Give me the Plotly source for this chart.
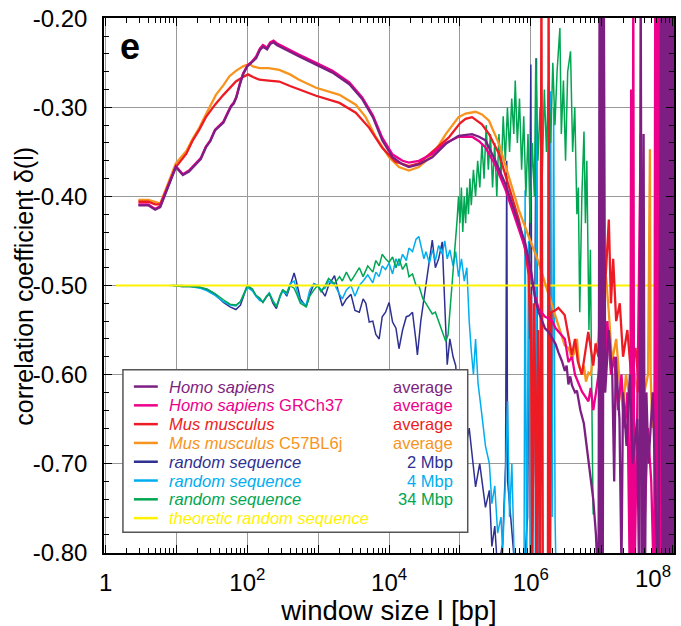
import plotly.graph_objects as go

FONT = "Liberation Sans, Arial, Helvetica, sans-serif"

# ---------------- data (window size l in bp, correlation coefficient) ----------------
hs_l = [2.9, 4.0, 5.0, 5.9, 9.8, 12.3, 15, 19, 22, 26, 30, 35, 40, 46, 52, 59, 64, 70, 78, 87,
        100, 115, 133, 150, 166, 190, 210, 234, 260, 290, 400, 540, 935, 1590, 2750, 4200, 5900,
        8000, 11200, 15500, 19000, 26300, 40700, 63100, 95500, 148000, 186000, 229000, 316000,
        437000, 603000, 832000, 1.02e6, 1.15e6, 1.29e6, 1.58e6, 1.78e6, 2.0e6, 2.24e6, 2.45e6,
        2.75e6, 3.02e6, 3.2e6, 3.39e6, 3.6e6, 3.8e6, 4.2e6, 4.47e6, 5.0e6, 5.6e6, 6.3e6, 6.9e6,
        7.6e6, 8.3e6, 9.02e6, 9.33e6, 9.66e6, 1.0e7, 1.035e7, 1.07e7, 1.12e7, 1.26e7, 1.41e7,
        1.5e7, 1.58e7, 1.78e7, 1.9e7, 2.0e7, 2.24e7, 2.5e7, 2.75e7, 3.16e7, 3.39e7, 3.55e7, 3.72e7,
        3.9e7, 4.07e7, 4.27e7, 4.57e7, 5.25e7, 6.3e7, 6.92e7, 7.16e7, 7.41e7, 7.67e7, 7.94e7,
        8.22e7, 8.51e7, 8.81e7, 9.12e7, 9.44e7, 9.77e7, 1.01e8, 1.047e8]
hs_d = [-0.410, -0.410, -0.415, -0.412, -0.367, -0.376, -0.372, -0.363, -0.358, -0.345, -0.338,
        -0.326, -0.322, -0.317, -0.308, -0.299, -0.296, -0.289, -0.275, -0.263, -0.254, -0.250,
        -0.245, -0.236, -0.232, -0.235, -0.229, -0.227, -0.230, -0.232, -0.238, -0.243, -0.252,
        -0.261, -0.274, -0.291, -0.311, -0.337, -0.356, -0.364, -0.367, -0.364, -0.356, -0.341,
        -0.332, -0.330, -0.333, -0.337, -0.360, -0.386, -0.419, -0.452, -0.486, -0.515, -0.530,
        -0.548, -0.552, -0.560, -0.566, -0.575, -0.585, -0.596, -0.590, -0.611, -0.602, -0.612,
        -0.620, -0.618, -0.640, -0.655, -0.690, -0.710, -0.740, -0.780, -0.85, -0.15, -0.85, -0.15,
        -0.85, -0.15, -0.62, -0.55, -0.60, -0.72, -0.58, -0.65, -0.82, -0.62, -0.68, -0.60, -0.70,
        -0.65, -0.85, -0.15, -0.85, -0.33, -0.85, -0.62, -0.70, -0.62, -0.85, -0.15, -0.85, -0.15,
        -0.85, -0.15, -0.85, -0.15, -0.85, -0.15, -0.85, -0.15, -0.85, -0.15]

grch_l = [2.9, 4.0, 5.0, 5.9, 9.8, 12.3, 15, 19, 22, 26, 30, 35, 40, 46, 52, 59, 64, 70, 78, 87,
          100, 115, 133, 150, 166, 190, 210, 234, 260, 290, 400, 540, 935, 1590, 2750, 4200, 5900,
          8000, 11200, 15500, 19000, 26300, 40700, 63100, 95500, 148000, 186000, 229000, 316000,
          437000, 603000, 832000, 1.02e6, 1.15e6, 1.29e6, 1.58e6, 1.78e6, 2.0e6, 2.24e6, 2.45e6,
          2.75e6, 3.02e6, 3.39e6, 3.8e6, 4.2e6, 4.7e6, 5.25e6, 5.9e6, 6.5e6, 7.0e6, 7.6e6, 8.3e6,
          9.0e6, 1.0e7, 1.1e7, 1.2e7, 1.35e7, 1.5e7, 1.7e7, 1.9e7, 2.1e7, 2.3e7, 2.51e7, 2.6e7,
          2.69e7, 2.79e7, 2.88e7, 3.16e7, 3.55e7, 3.72e7, 4.47e7, 5.0e7, 5.5e7, 5.69e7, 5.89e7,
          6.1e7, 6.31e7, 6.53e7, 6.76e7]
grch_d = [-0.409, -0.409, -0.414, -0.411, -0.366, -0.375, -0.371, -0.362, -0.357, -0.344, -0.337,
          -0.325, -0.321, -0.316, -0.307, -0.298, -0.295, -0.288, -0.274, -0.262, -0.253, -0.249,
          -0.243, -0.234, -0.230, -0.233, -0.227, -0.225, -0.228, -0.230, -0.236, -0.241, -0.250,
          -0.259, -0.272, -0.289, -0.309, -0.334, -0.353, -0.360, -0.362, -0.360, -0.352, -0.340,
          -0.333, -0.333, -0.338, -0.345, -0.365, -0.392, -0.425, -0.458, -0.492, -0.512, -0.526,
          -0.535, -0.537, -0.540, -0.548, -0.552, -0.556, -0.560, -0.586, -0.580, -0.600, -0.610,
          -0.619, -0.625, -0.630, -0.615, -0.640, -0.620, -0.600, -0.560, -0.620, -0.540, -0.600,
          -0.580, -0.640, -0.600, -0.660, -0.620, -0.85, -0.28, -0.85, -0.15, -0.85, -0.65, -0.33,
          -0.85, -0.66, -0.72, -0.85, -0.15, -0.85, -0.15, -0.85, -0.15, -0.85]

mm_l = [2.9, 4.0, 5.0, 5.9, 9.8, 13.8, 17, 21, 26, 35, 46, 56, 69, 87, 102, 120, 148, 200, 282,
        400, 537, 933, 1995, 3388, 5248, 7943, 12300, 19050, 26300, 40700, 69200, 100000, 120000,
        148000, 204000, 257000, 355000, 490000, 676000, 832000, 933000, 977000, 1.0e6, 1.05e6,
        1.1e6, 1.15e6, 1.2e6, 1.26e6, 1.35e6, 1.41e6, 1.48e6, 1.74e6, 1.78e6, 1.86e6, 1.95e6,
        2.2e6, 2.45e6, 3.0e6, 3.39e6, 3.8e6, 4.2e6, 4.6e6, 5.25e6, 5.8e6, 6.46e6, 7.0e6, 7.6e6,
        8.2e6, 9.0e6, 1.0e7, 1.12e7, 1.26e7, 1.35e7, 1.45e7, 1.6e7, 1.8e7, 2.0e7, 2.3e7, 2.6e7,
        3.0e7, 3.4e7]
mm_d = [-0.406, -0.406, -0.409, -0.409, -0.367, -0.352, -0.337, -0.325, -0.311, -0.297, -0.286,
        -0.279, -0.271, -0.266, -0.263, -0.266, -0.269, -0.270, -0.271, -0.276, -0.280, -0.287,
        -0.295, -0.306, -0.323, -0.345, -0.361, -0.366, -0.363, -0.350, -0.334, -0.318, -0.313,
        -0.311, -0.319, -0.330, -0.352, -0.389, -0.426, -0.460, -0.489, -0.560, -0.510, -0.85,
        -0.520, -0.600, -0.85, -0.550, -0.85, -0.15, -0.85, -0.85, -0.15, -0.85, -0.530, -0.528,
        -0.525, -0.533, -0.555, -0.578, -0.560, -0.585, -0.600, -0.575, -0.552, -0.570, -0.590,
        -0.565, -0.580, -0.540, -0.500, -0.426, -0.520, -0.470, -0.540, -0.520, -0.580, -0.550,
        -0.600, -0.570, -0.620]

c57_l = [2.9, 4.0, 5.0, 5.9, 9.8, 13.8, 17, 21, 26, 36, 46, 56, 69, 87, 107, 120, 148, 200, 282,
         400, 537, 933, 1995, 3388, 4677, 6457, 10000, 13800, 19050, 26300, 40700, 63100, 95500,
         120000, 166000, 204000, 257000, 355000, 490000, 676000, 933000, 1.29e6, 1.58e6, 2.0e6,
         2.45e6, 3.0e6, 3.4e6, 3.8e6, 4.1e6, 4.47e6, 4.8e6, 5.25e6, 5.6e6, 6.0e6, 6.5e6, 7.0e6,
         7.6e6, 8.2e6, 9.0e6, 1.0e7, 1.08e7, 1.15e7, 1.26e7, 1.4e7, 1.6e7, 1.8e7, 2.0e7, 2.2e7,
         2.5e7, 2.8e7, 3.2e7, 3.6e7, 4.0e7, 4.5e7, 4.79e7, 4.9e7, 5.2e7, 5.6e7]
c57_d = [-0.404, -0.404, -0.406, -0.408, -0.363, -0.349, -0.335, -0.323, -0.308, -0.286, -0.275,
         -0.265, -0.259, -0.254, -0.251, -0.254, -0.256, -0.256, -0.258, -0.263, -0.269, -0.278,
         -0.286, -0.297, -0.311, -0.333, -0.356, -0.367, -0.371, -0.367, -0.354, -0.330, -0.311,
         -0.307, -0.305, -0.308, -0.315, -0.341, -0.378, -0.415, -0.445, -0.474, -0.497, -0.523,
         -0.544, -0.567, -0.570, -0.582, -0.575, -0.560, -0.590, -0.600, -0.590, -0.608, -0.598,
         -0.600, -0.580, -0.575, -0.560, -0.495, -0.520, -0.490, -0.530, -0.585, -0.560, -0.610,
         -0.640, -0.600, -0.630, -0.590, -0.620, -0.600, -0.620, -0.600, -0.347, -0.600, -0.660,
         -0.620]

r2_l = [8.9, 12, 16, 21.4, 27, 35, 46, 57, 69, 80, 100, 118, 132, 150, 166, 186, 204, 230, 257,
        290, 316, 360, 400, 457, 490, 560, 676, 760, 870, 977, 1100, 1250, 1400, 1698, 1900, 2188,
        2500, 2900, 3300, 3802, 4300, 4700, 5248, 5888, 6500, 7244, 8000, 8913, 10000, 11200,
        12500, 13800, 15500, 17500, 19050, 21400, 24000, 25100, 28000, 33100, 37000, 40700, 45000,
        50000, 56200, 61000, 66100, 72000, 80000, 87100, 95500, 105000, 120000, 135000, 166000,
        190000, 229000, 260000, 282000, 310000, 340000, 400000, 440000, 457000, 470000, 520000,
        600000, 700000, 800000, 900000, 1.0e6, 1.05e6, 1.1e6, 1.2e6, 1.26e6, 1.3e6]
r2_d = [-0.500, -0.501, -0.501, -0.502, -0.505, -0.510, -0.519, -0.524, -0.527, -0.522, -0.500,
        -0.505, -0.511, -0.516, -0.519, -0.513, -0.509, -0.520, -0.526, -0.512, -0.505, -0.512,
        -0.500, -0.486, -0.495, -0.515, -0.524, -0.510, -0.498, -0.500, -0.505, -0.512, -0.500,
        -0.489, -0.505, -0.523, -0.515, -0.510, -0.528, -0.530, -0.515, -0.520, -0.541, -0.540,
        -0.555, -0.560, -0.535, -0.530, -0.519, -0.541, -0.548, -0.571, -0.550, -0.535, -0.534,
        -0.530, -0.563, -0.578, -0.540, -0.500, -0.470, -0.449, -0.480, -0.470, -0.451, -0.520,
        -0.589, -0.560, -0.580, -0.590, -0.637, -0.600, -0.682, -0.660, -0.726, -0.700, -0.749,
        -0.730, -0.793, -0.770, -0.82, -0.790, -0.700, -0.360, -0.720, -0.760, -0.82, -0.800,
        -0.82, -0.760, -0.252, -0.780, -0.700, -0.245, -0.800, -0.85]

r4_l = [7.9, 12, 16, 21.4, 27, 35, 46, 57, 69, 80, 100, 118, 132, 150, 166, 186, 204, 230, 257,
        290, 316, 360, 400, 457, 500, 560, 676, 760, 870, 977, 1100, 1250, 1400, 1698, 2000, 2188,
        2500, 2900, 3300, 3802, 4300, 5000, 5888, 6500, 7244, 8000, 8913, 10000, 11200, 12500,
        13800, 15500, 17500, 19050, 21400, 24000, 26300, 28000, 31000, 33100, 37000, 40700, 45000,
        50000, 56200, 61000, 66100, 72000, 80000, 87100, 95500, 105000, 115000, 125000, 135000,
        145000, 155000, 166000, 180000, 200000, 229000, 260000, 282000, 310000, 340000, 380000,
        400000, 437000, 470000, 500000, 540000, 600000, 800000, 830000, 870000, 930000, 980000,
        1.15e6, 1.2e6, 1.25e6, 1.8e6, 1.9e6, 2.0e6, 2.1e6, 2.2e6, 2.3e6]
r4_d = [-0.500, -0.500, -0.501, -0.503, -0.506, -0.511, -0.518, -0.522, -0.523, -0.518, -0.502,
        -0.506, -0.512, -0.517, -0.518, -0.512, -0.508, -0.517, -0.523, -0.513, -0.506, -0.510,
        -0.498, -0.495, -0.505, -0.518, -0.522, -0.505, -0.498, -0.500, -0.505, -0.503, -0.495,
        -0.499, -0.510, -0.515, -0.505, -0.500, -0.512, -0.500, -0.495, -0.488, -0.497, -0.485,
        -0.490, -0.478, -0.482, -0.475, -0.487, -0.470, -0.478, -0.465, -0.472, -0.458, -0.462,
        -0.448, -0.445, -0.455, -0.470, -0.462, -0.475, -0.460, -0.472, -0.455, -0.465, -0.450,
        -0.470, -0.460, -0.478, -0.462, -0.490, -0.470, -0.495, -0.480, -0.540, -0.575, -0.600,
        -0.560, -0.610, -0.640, -0.680, -0.700, -0.745, -0.725, -0.778, -0.760, -0.800, -0.720,
        -0.630, -0.760, -0.700, -0.85, -0.85, -0.393, -0.85, -0.450, -0.85, -0.85, -0.290, -0.85,
        -0.85, -0.282, -0.760, -0.300, -0.763, -0.85]

r34_l = [9, 12, 16, 21.4, 27, 35, 46, 57, 69, 80, 100, 118, 132, 150, 166, 186, 204, 230, 257,
         290, 316, 360, 400, 457, 500, 560, 676, 760, 870, 977, 1100, 1250, 1400, 1698, 2000, 2188,
         2500, 2900, 3300, 3802, 4300, 5000, 5888, 6500, 7244, 8000, 8913, 10000, 11200, 12500,
         13800, 15500, 17500, 19050, 21400, 24000, 26300, 30000, 33100, 36300, 40700, 45000,
         50100, 56200, 63100, 68000, 72000, 77600, 84000, 91200,
         95500, 100000, 104700, 109600, 114800, 120200, 125900, 131800, 138000, 144500, 154900,
         166000, 177800, 190500, 204200, 218800, 234400, 251200, 269200, 288400, 309000, 331100,
         354800, 380200, 407400, 436500, 467700, 501200, 537000, 575400, 602600, 645700, 691800,
         741300, 794300, 851100, 912000, 977200, 1.047e6, 1.122e6, 1.175e6, 1.259e6, 1.349e6,
         1.445e6, 1.549e6, 1.660e6, 1.778e6, 1.905e6, 2.042e6, 2.188e6, 2.344e6, 2.570e6,
         2.692e6, 2.884e6, 3.090e6, 3.311e6, 3.631e6, 3.890e6, 4.169e6, 4.467e6, 4.677e6,
         4.898e6, 5.248e6, 5.623e6, 5.888e6, 6.166e6, 6.607e6, 6.918e6, 7.413e6, 7.586e6]
r34_d = [-0.500, -0.501, -0.501, -0.502, -0.504, -0.509, -0.516, -0.521, -0.522, -0.518, -0.500,
         -0.504, -0.511, -0.514, -0.519, -0.512, -0.509, -0.518, -0.524, -0.511, -0.505, -0.508,
         -0.500, -0.503, -0.510, -0.520, -0.524, -0.512, -0.505, -0.500, -0.507, -0.500, -0.492,
         -0.498, -0.490, -0.495, -0.485, -0.495, -0.488, -0.480, -0.490, -0.478, -0.485, -0.472,
         -0.478, -0.465, -0.470, -0.474, -0.468, -0.480, -0.470, -0.482, -0.475, -0.490, -0.487,
         -0.500, -0.500, -0.515, -0.520, -0.526, -0.532, -0.530, -0.540, -0.550, -0.563, -0.555,
         -0.530, -0.500, -0.470, -0.426,
         -0.400, -0.430, -0.390, -0.440, -0.400, -0.430, -0.390, -0.420, -0.380, -0.410, -0.370,
         -0.400, -0.360, -0.390, -0.340, -0.380, -0.320, -0.370, -0.330, -0.390, -0.340, -0.400,
         -0.330, -0.380, -0.310, -0.360, -0.300, -0.350, -0.290, -0.330, -0.270, -0.340, -0.290,
         -0.370, -0.310, -0.400, -0.330, -0.430, -0.340, -0.400, -0.245, -0.360, -0.300,
         -0.380, -0.280, -0.350, -0.270, -0.340, -0.250, -0.320, -0.260, -0.211,
         -0.330, -0.270, -0.360, -0.260, -0.237, -0.350, -0.300, -0.420, -0.390,
         -0.530, -0.400, -0.327, -0.430, -0.360, -0.550, -0.460, -0.700, -0.757]

theory_l = [1.4, 8.1e7]
theory_d = [-0.5, -0.5]

# legend texts
legend_names = ["<i>Homo sapiens</i>", "<i>Homo sapiens</i> GRCh37", "<i>Mus musculus</i>",
                "<i>Mus musculus</i> C57BL6j", "<i>random sequence</i>", "<i>random sequence</i>",
                "<i>random sequence</i>", "<i>theoretic random sequence</i>"]
legend_notes = ["average", "average", "average", "average", "2 Mbp", "4 Mbp", "34 Mbp", ""]
plain_names = ["Homo sapiens", "Homo sapiens GRCh37", "Mus musculus", "Mus musculus C57BL6j",
               "random sequence 2 Mbp", "random sequence 4 Mbp", "random sequence 34 Mbp",
               "theoretic random sequence"]
colors = ["#7D1F82", "#EC008C", "#ED1C24", "#F7941D", "#2E3192", "#00AEEF", "#00A651", "#FFF200"]
xs = [hs_l, grch_l, mm_l, c57_l, r2_l, r4_l, r34_l, theory_l]
ys = [hs_d, grch_d, mm_d, c57_d, r2_d, r4_d, r34_d, theory_d]
widths = [2.3, 2.3, 2.3, 2.3, 1.5, 1.5, 1.5, 2.0]

x_tickvals = [1, 10, 100, 1e3, 1e4, 1e5, 1e6, 1e7, 1e8]
x_ticktext = ["1", "", "10<sup>2</sup>", "", "10<sup>4</sup>", "", "10<sup>6</sup>", "", ""]
y_tickvals = [-0.8, -0.7, -0.6, -0.5, -0.4, -0.3, -0.2]
y_ticktext = ["-0.80", "-0.70", "-0.60", "-0.50", "-0.40", "-0.30", "-0.20"]
x_title = "window size l [bp]"
y_title = "correlation coefficient δ(l)"

# ---------------- layout geometry (pixels) ----------------
W, H = 681, 626
L, R, T, B = 104, 676, 13, 553


def fx(px):
    return (px - L) / (R - L)


def fy(py):
    return (B - py) / (B - T)


fig = go.Figure()
draw_order = [4, 5, 6, 7, 3, 2, 1, 0]
for i in draw_order:
    fig.add_trace(go.Scatter(x=xs[i], y=ys[i], mode="lines", name=plain_names[i],
                             line=dict(color=colors[i], width=widths[i]), showlegend=False))

shapes = []
annotations = []
# manual legend box
shapes.append(dict(type="rect", xref="paper", yref="paper", x0=fx(123), x1=fx(469),
                   y0=fy(532), y1=fy(368), line=dict(color="#555555", width=1.5),
                   fillcolor="white", layer="above"))
for k in range(len(legend_names)):
    yc = 385 + 18.97 * k
    shapes.append(dict(type="line", xref="paper", yref="paper", x0=fx(134), x1=fx(158),
                       y0=fy(yc), y1=fy(yc), line=dict(color=colors[k], width=2.5), layer="above"))
    annotations.append(dict(xref="paper", yref="paper", x=fx(167), y=fy(yc), xanchor="left",
                            yanchor="middle", text=legend_names[k], showarrow=False,
                            font=dict(family=FONT, size=16.5, color=colors[k])))
    if legend_notes[k]:
        annotations.append(dict(xref="paper", yref="paper", x=fx(456), y=fy(yc), xanchor="right",
                                yanchor="middle", text=legend_notes[k], showarrow=False,
                                font=dict(family=FONT, size=16.5, color=colors[k])))

# panel letter
annotations.append(dict(xref="paper", yref="paper", x=fx(118), y=fy(42), xanchor="left",
                        yanchor="middle", text="<b>e</b>", showarrow=False,
                        font=dict(family=FONT, size=36, color="black")))
# last x tick label shifted inside the canvas
annotations.append(dict(xref="paper", yref="paper", x=fx(655), y=fy(577), xanchor="center",
                        yanchor="middle", text="10<sup>8</sup>", showarrow=False,
                        font=dict(family=FONT, size=24, color="black")))
# y axis title
annotations.append(dict(xref="paper", yref="paper", x=fx(24), y=fy(284), xanchor="center",
                        yanchor="middle", text=y_title, textangle=-90, showarrow=False,
                        font=dict(family=FONT, size=25, color="black")))

fig.update_layout(
    width=W, height=H,
    margin=dict(l=L, r=W - R, t=T, b=H - B, pad=0),
    paper_bgcolor="white", plot_bgcolor="white",
    font=dict(family=FONT, color="black"),
    shapes=shapes, annotations=annotations,
    showlegend=False,
)
fig.update_xaxes(
    type="log", range=[-0.0225, 8.02],
    tickmode="array", tickvals=x_tickvals, ticktext=x_ticktext,
    ticks="inside", ticklen=8, tickwidth=1.2, tickcolor="black",
    minor=dict(ticks="inside", ticklen=5, tickwidth=1, tickcolor="black", dtick="D1", showgrid=False),
    showgrid=True, gridcolor="#9a9a9a", gridwidth=1.2,
    showline=True, linecolor="black", linewidth=1.5, mirror="allticks",
    tickfont=dict(family=FONT, size=24, color="black"),
    ticklabelstandoff=7,
    title=dict(text=x_title, font=dict(family=FONT, size=27.5, color="black"), standoff=2),
    zeroline=False,
)
fig.update_yaxes(
    range=[-0.8003, -0.1997],
    tickmode="array", tickvals=y_tickvals, ticktext=y_ticktext,
    ticks="inside", ticklen=8, tickwidth=1.2, tickcolor="black",
    minor=dict(ticks="inside", ticklen=5, tickwidth=1, tickcolor="black", dtick=0.02,
               tick0=-0.8, showgrid=False),
    showgrid=True, gridcolor="#9a9a9a", gridwidth=1.2,
    showline=True, linecolor="black", linewidth=1.5, mirror="allticks",
    tickfont=dict(family=FONT, size=24, color="black"),
    ticklabelstandoff=10, ticklabeloverflow="allow",
    zeroline=False,
)

fig.write_html("out.html")
